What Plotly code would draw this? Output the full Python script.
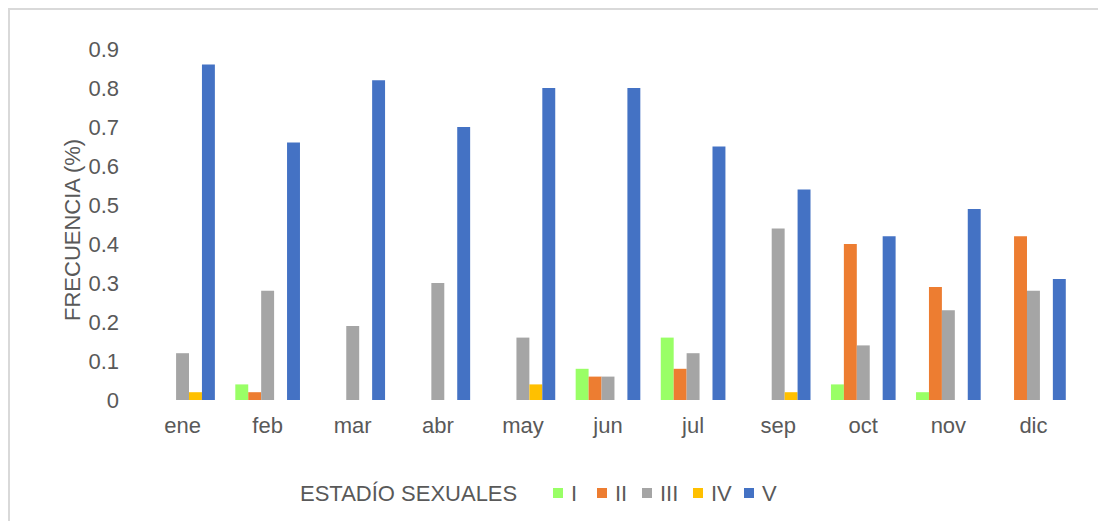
import plotly.graph_objects as go

months = ["ene", "feb", "mar", "abr", "may", "jun", "jul", "sep", "oct", "nov", "dic"]
stage_I = [0.0, 0.04, 0.0, 0.0, 0.0, 0.08, 0.16, 0.0, 0.04, 0.02, 0.0]
stage_II = [0.0, 0.02, 0.0, 0.0, 0.0, 0.06, 0.08, 0.0, 0.40, 0.29, 0.42]
stage_III = [0.12, 0.28, 0.19, 0.30, 0.16, 0.06, 0.12, 0.44, 0.14, 0.23, 0.28]
stage_IV = [0.02, 0.0, 0.0, 0.0, 0.04, 0.0, 0.0, 0.02, 0.0, 0.0, 0.0]
stage_V = [0.86, 0.66, 0.82, 0.70, 0.80, 0.80, 0.65, 0.54, 0.42, 0.49, 0.31]

series_names = ["I", "II", "III", "IV", "V"]
series_values = [stage_I, stage_II, stage_III, stage_IV, stage_V]
series_colors = ["#99FF66", "#ED7D31", "#A5A5A5", "#FFC000", "#4472C4"]
legend_title = "ESTADÍO SEXUALES"
y_ticks = [0, 0.1, 0.2, 0.3, 0.4, 0.5, 0.6, 0.7, 0.8, 0.9]
y_ticktext = ["0", "0.1", "0.2", "0.3", "0.4", "0.5", "0.6", "0.7", "0.8", "0.9"]

FONT = "Liberation Sans, Arial, sans-serif"
GRAY = "#595959"
FS = 22

fig = go.Figure()
for name, vals, col in zip(series_names, series_values, series_colors):
    fig.add_trace(go.Bar(name=name, x=months, y=vals,
                         marker=dict(color=col, line=dict(width=0))))

W, H = 1106, 521
ml, mr, mt, mb = 132, 38, 41, 129
PW, PH = W - ml - mr, H - mt - mb


def px(xp):
    return (xp - ml) / PW


def py(yp):
    return (H - mb - yp) / PH


shapes = [
    dict(type="line", xref="paper", yref="paper",
         x0=px(1), x1=px(1), y0=py(1), y1=py(H),
         line=dict(color="#D9D9D9", width=2)),
    dict(type="line", xref="paper", yref="paper",
         x0=px(0), x1=px(W), y0=py(1), y1=py(1),
         line=dict(color="#D9D9D9", width=2)),
]
annotations = [
    dict(text="FRECUENCIA (%)", xref="paper", yref="paper",
         x=px(64), y=py(222), xanchor="center", yanchor="middle",
         textangle=-90, showarrow=False, font=dict(size=FS, color=GRAY)),
    dict(text=legend_title, xref="paper", yref="paper",
         x=px(290), y=py(485), xanchor="left", yanchor="middle",
         showarrow=False, font=dict(size=FS, color=GRAY)),
]

# legend entries (swatch + label), laid out in pixels
leg_y = 485
swatch_x = [545, 589, 634, 685, 736]
for sx, name, col in zip(swatch_x, series_names, series_colors):
    shapes.append(dict(type="rect", xref="paper", yref="paper",
                       x0=px(sx), x1=px(sx + 10), y0=py(leg_y - 5), y1=py(leg_y + 5),
                       fillcolor=col, line=dict(width=0)))
    annotations.append(dict(text=name, xref="paper", yref="paper",
                            x=px(sx + 16), y=py(leg_y), xanchor="left", yanchor="middle",
                            showarrow=False, font=dict(size=FS, color=GRAY)))

fig.update_layout(
    width=W, height=H,
    margin=dict(l=ml, r=mr, t=mt, b=mb, autoexpand=False),
    paper_bgcolor="white", plot_bgcolor="white",
    barmode="group", bargap=0.24, bargroupgap=0.0,
    font=dict(family=FONT, color=GRAY, size=FS),
    showlegend=False,
    xaxis=dict(showgrid=False, zeroline=False, showline=False, ticks="",
               tickfont=dict(size=FS, color=GRAY), ticklabelstandoff=10),
    yaxis=dict(range=[0, 0.9], tickvals=y_ticks, ticktext=y_ticktext, showgrid=False,
               zeroline=False, showline=False, ticks="",
               tickfont=dict(size=FS, color=GRAY), ticklabelstandoff=20),
    shapes=shapes,
    annotations=annotations,
)

fig.write_html("out.html")
